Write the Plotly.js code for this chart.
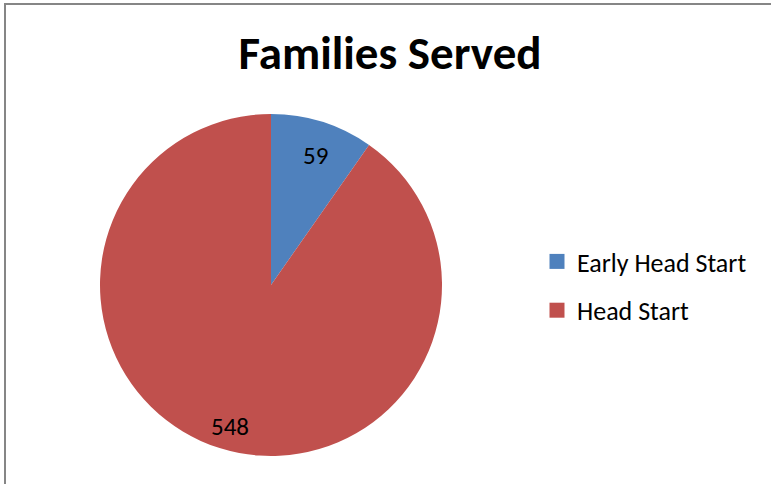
<!DOCTYPE html>
<html>
<head>
<meta charset="utf-8">
<script src="https://cdn.plot.ly/plotly-3.0.1.min.js"></script>
<style>
html,body{margin:0;padding:0;background:#fff;}
#chart{width:771px;height:484px;}
</style>
</head>
<body>
<div id="chart"></div>
<script>
const categories = ["Early Head Start", "Head Start"];
const families = [59, 548];
const colors = ["#4F81BD", "#C0504D"];
const chartTitle = "Families Served";

const W = 771, H = 484;
const cx = 271, cy = 285, R = 171;
const labelRadius = 0.83;
const FONT = "Carlito, Lato, 'Liberation Sans', sans-serif";

const pie = {
  type: "pie",
  labels: categories,
  values: families,
  sort: false,
  direction: "clockwise",
  rotation: 0,
  marker: {colors: colors, line: {width: 0}},
  textinfo: "none",
  hoverinfo: "label+value",
  showlegend: false,
  domain: {x: [(cx - R) / W, (cx + R) / W], y: [1 - (cy + R) / H, 1 - (cy - R) / H]}
};

// legend entries: one per category, in its own group so the group gap spaces them
const legendEntries = categories.map((c, i) => ({
  type: "scatter", mode: "markers",
  x: [null], y: [null],
  name: c, legendgroup: "g" + i,
  marker: {symbol: "square", size: 15, color: colors[i]},
  hoverinfo: "skip", showlegend: true
}));

// data labels placed at each slice's mid-angle, derived from the values
const total = families.reduce((a, b) => a + b, 0);
let cum = 0;
const annotations = families.map(v => {
  const mid = (cum + v / 2) / total * 2 * Math.PI;
  cum += v;
  const px = cx + labelRadius * R * Math.sin(mid);
  const py = cy - labelRadius * R * Math.cos(mid);
  return {
    xref: "paper", yref: "paper", x: px / W, y: 1 - py / H,
    xanchor: "center", yanchor: "middle", showarrow: false, xshift: 2, yshift: -6,
    text: String(v), font: {family: FONT, size: 25, color: "#000"}
  };
});

const layout = {
  width: W, height: H,
  margin: {l: 0, r: 0, t: 0, b: 0},
  paper_bgcolor: "#fff",
  plot_bgcolor: "rgba(0,0,0,0)",
  xaxis: {visible: false, range: [0, 1]},
  yaxis: {visible: false, range: [0, 1]},
  title: {
    text: "<b>" + chartTitle + "</b>",
    font: {family: FONT, size: 47, color: "#000"},
    x: 390 / W, xanchor: "center",
    y: 1 - 53 / H, yanchor: "middle"
  },
  showlegend: true,
  legend: {
    x: 537 / W, xanchor: "left",
    y: 1 - 286 / H, yanchor: "middle",
    traceorder: "grouped", tracegroupgap: 12,
    font: {family: FONT, size: 26, color: "#000"},
    bgcolor: "rgba(0,0,0,0)"
  },
  annotations: annotations,
  shapes: [{
    type: "rect", xref: "paper", yref: "paper",
    x0: 5 / W, x1: 1.2, y0: -0.2, y1: 1 - 4 / H,
    line: {color: "#868686", width: 2}, fillcolor: "rgba(0,0,0,0)"
  }]
};

Plotly.newPlot("chart", [pie].concat(legendEntries), layout, {displayModeBar: false, staticPlot: true});
</script>
</body>
</html>
